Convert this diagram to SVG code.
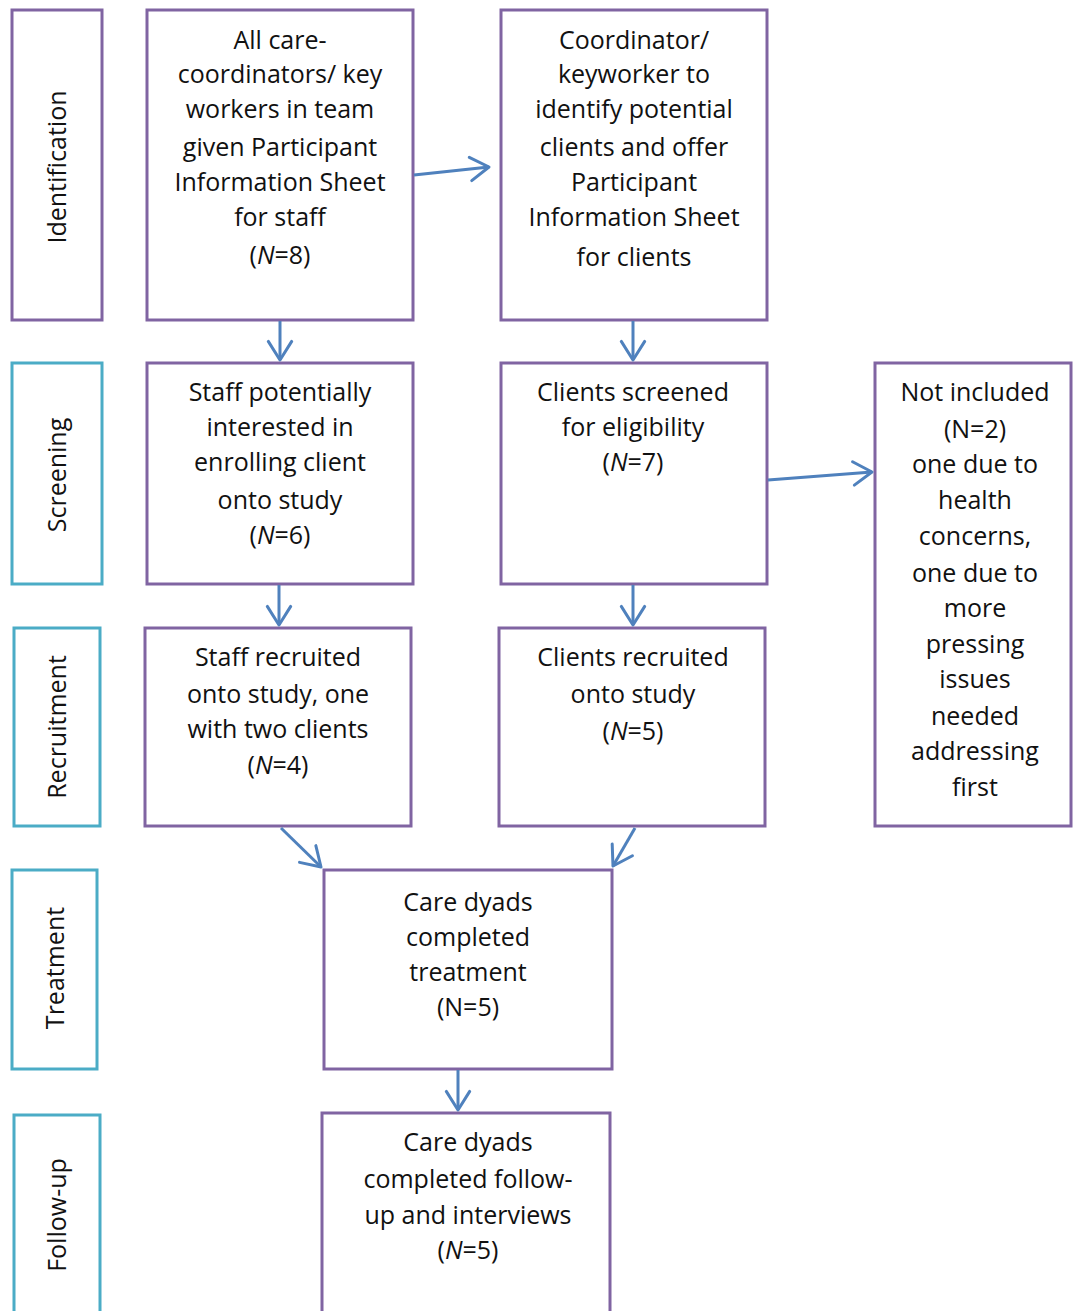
<svg xmlns="http://www.w3.org/2000/svg" width="1073" height="1311" viewBox="0 0 1073 1311">
<style>
.box{fill:#fff;stroke:#8064A2;stroke-width:3}
.stage{fill:#fff;stroke:#4BACC6;stroke-width:3}
.pstage{fill:#fff;stroke:#8064A2;stroke-width:3}
text{font-family:"Open Sans","Liberation Sans",sans-serif;font-size:25px;fill:#111;text-anchor:middle}
.lab{font-size:25px}
.conn{stroke:#4F81BD;stroke-width:3;fill:none;marker-end:url(#arr)}
</style>
<defs>
<marker id="arr" markerWidth="10" markerHeight="10" refX="7" refY="4.5" orient="auto" markerUnits="strokeWidth">
<path d="M0.8,0.6 L7,4.5 L0.8,8.4" fill="none" stroke="#4F81BD" stroke-width="1" stroke-linecap="round" stroke-linejoin="round"/>
</marker>
</defs>
<rect width="1073" height="1311" fill="#fff"/>

<g id="stage-identification"><rect class="pstage" x="12" y="10" width="90" height="310"/><text class="lab" transform="translate(66,167) rotate(-90)">Identification</text></g>
<g id="stage-screening"><rect class="stage" x="12" y="363" width="90" height="221"/><text class="lab" transform="translate(66,475) rotate(-90)">Screening</text></g>
<g id="stage-recruitment"><rect class="stage" x="14" y="628" width="86" height="198"/><text class="lab" transform="translate(66,727) rotate(-90)">Recruitment</text></g>
<g id="stage-treatment"><rect class="stage" x="12" y="870" width="85" height="199"/><text class="lab" transform="translate(64,968) rotate(-90)">Treatment</text></g>
<g id="stage-followup"><rect class="stage" x="14" y="1115" width="86" height="200"/><text class="lab" transform="translate(66,1215) rotate(-90)">Follow-up</text></g>

<g id="node-staff-info"><rect class="box" x="147" y="10" width="266" height="310"/>
<text x="280" y="49">All care-</text>
<text x="280" y="83">coordinators/ key</text>
<text x="280" y="118">workers in team</text>
<text x="280" y="156">given Participant</text>
<text x="280" y="191">Information Sheet</text>
<text x="280" y="226">for staff</text>
<text x="280" y="264">(<tspan font-style="italic">N</tspan>=8)</text>
</g>
<g id="node-client-info"><rect class="box" x="501" y="10" width="266" height="310"/>
<text x="634" y="49">Coordinator/</text>
<text x="634" y="83">keyworker to</text>
<text x="634" y="118">identify potential</text>
<text x="634" y="156">clients and offer</text>
<text x="634" y="191">Participant</text>
<text x="634" y="226">Information Sheet</text>
<text x="634" y="266">for clients</text>
</g>
<g id="node-staff-interested"><rect class="box" x="147" y="363" width="266" height="221"/>
<text x="280" y="401">Staff potentially</text>
<text x="280" y="436">interested in</text>
<text x="280" y="471">enrolling client</text>
<text x="280" y="509">onto study</text>
<text x="280" y="544">(<tspan font-style="italic">N</tspan>=6)</text>
</g>
<g id="node-clients-screened"><rect class="box" x="501" y="363" width="266" height="221"/>
<text x="633" y="401">Clients screened</text>
<text x="633" y="436">for eligibility</text>
<text x="633" y="471">(<tspan font-style="italic">N</tspan>=7)</text>
</g>
<g id="node-not-included"><rect class="box" x="875" y="363" width="196" height="463"/>
<text x="975" y="401">Not included</text>
<text x="975" y="438">(N=2)</text>
<text x="975" y="473">one due to</text>
<text x="975" y="509">health</text>
<text x="975" y="545">concerns,</text>
<text x="975" y="582">one due to</text>
<text x="975" y="617">more</text>
<text x="975" y="653">pressing</text>
<text x="975" y="688">issues</text>
<text x="975" y="725">needed</text>
<text x="975" y="760">addressing</text>
<text x="975" y="796">first</text>
</g>
<g id="node-staff-recruited"><rect class="box" x="145" y="628" width="266" height="198"/>
<text x="278" y="666">Staff recruited</text>
<text x="278" y="703">onto study, one</text>
<text x="278" y="738">with two clients</text>
<text x="278" y="774">(<tspan font-style="italic">N</tspan>=4)</text>
</g>
<g id="node-clients-recruited"><rect class="box" x="499" y="628" width="266" height="198"/>
<text x="633" y="666">Clients recruited</text>
<text x="633" y="703">onto study</text>
<text x="633" y="740">(<tspan font-style="italic">N</tspan>=5)</text>
</g>
<g id="node-treatment"><rect class="box" x="324" y="870" width="288" height="199"/>
<text x="468" y="911">Care dyads</text>
<text x="468" y="946">completed</text>
<text x="468" y="981">treatment</text>
<text x="468" y="1016">(N=5)</text>
</g>
<g id="node-followup"><rect class="box" x="322" y="1113" width="288" height="200"/>
<text x="468" y="1151">Care dyads</text>
<text x="468" y="1188">completed follow-</text>
<text x="468" y="1224">up and interviews</text>
<text x="468" y="1259">(<tspan font-style="italic">N</tspan>=5)</text>
</g>

<g id="connectors">
<line class="conn" x1="414" y1="175" x2="489" y2="167"/>
<line class="conn" x1="280" y1="321" x2="280" y2="360"/>
<line class="conn" x1="633" y1="321" x2="633" y2="360"/>
<line class="conn" x1="768" y1="480" x2="872" y2="472"/>
<line class="conn" x1="279" y1="585" x2="279" y2="625"/>
<line class="conn" x1="633" y1="585" x2="633" y2="625"/>
<line class="conn" x1="281" y1="828" x2="321" y2="867"/>
<line class="conn" x1="635" y1="828" x2="613" y2="866"/>
<line class="conn" x1="458" y1="1070" x2="458" y2="1110"/>
</g>
</svg>
